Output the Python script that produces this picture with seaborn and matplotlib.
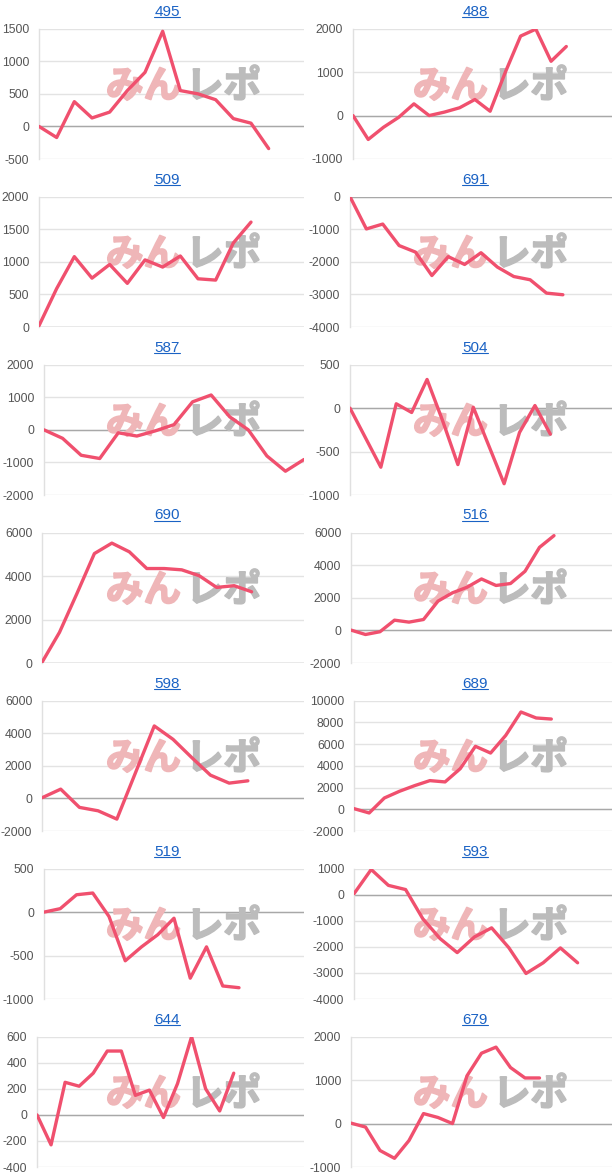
import matplotlib
matplotlib.use("Agg")
import matplotlib.pyplot as plt
from matplotlib.lines import Line2D
import matplotlib.patheffects as pe
import seaborn as sns
import pandas as pd
import numpy as np

# ---------------- data ----------------
machines = ["495", "488", "509", "691", "587", "504", "690",
            "516", "598", "689", "519", "593", "644", "679"]

s495 = [0, -170, 380, 130, 220, 550, 830, 1460, 550, 500, 410, 120, 50, -340]
s488 = [0, -550, -270, -40, 270, 0, 80, 180, 370, 100, 1000, 1830, 1990, 1250, 1590]
s509 = [20, 590, 1080, 750, 960, 670, 1030, 920, 1090, 740, 720, 1290, 1610]
s691 = [0, -990, -840, -1500, -1700, -2420, -1840, -2080, -1720, -2160, -2450, -2550, -2960, -3010]
s587 = [0, -260, -780, -880, -90, -190, -30, 160, 860, 1070, 400, 0, -800, -1270, -910]
s504 = [0, -340, -680, 50, -50, 330, -140, -650, 10, -430, -870, -280, 30, -300]
s690 = [30, 1410, 3200, 5040, 5520, 5120, 4350, 4350, 4290, 4020, 3480, 3560, 3280]
s516 = [20, -250, -80, 630, 510, 670, 1800, 2310, 2650, 3160, 2760, 2880, 3630, 5100, 5820]
s598 = [40, 570, -550, -760, -1270, 1590, 4450, 3630, 2510, 1430, 940, 1080]
s689 = [60, -340, 1040, 1660, 2180, 2640, 2520, 3740, 5800, 5180, 6810, 8960, 8410, 8310]
s519 = [0, 40, 200, 220, -50, -560, -400, -260, -70, -760, -400, -850, -870]
s593 = [40, 970, 360, 200, -920, -1680, -2220, -1620, -1270, -2030, -3020, -2610, -2040, -2610]
s644 = [0, -230, 250, 220, 320, 490, 490, 150, 190, -20, 240, 600, 200, 30, 320]
s679 = [10, -80, -620, -800, -390, 230, 140, 0, 1100, 1620, 1760, 1290, 1050, 1050]

series = [s495, s488, s509, s691, s587, s504, s690,
          s516, s598, s689, s519, s593, s644, s679]

# y axis range (low, high, step) and x axis extent for each machine
y_low = [-500, -1000, 0, -4000, -2000, -1000, 0, -2000, -2000, -2000, -1000, -4000, -400, -1000]
y_high = [1500, 2000, 2000, 0, 2000, 500, 6000, 6000, 6000, 10000, 500, 1000, 600, 2000]
y_step = [500, 1000, 500, 1000, 1000, 500, 2000, 2000, 2000, 2000, 500, 1000, 200, 1000]
x_span = [15, 17, 15, 16, 14, 17, 15, 18, 14, 17, 16, 15, 19, 18]

# ---------------- layout / style ----------------
W, H = 616, 1176
ROW_H = 168
lefts = [39, 353, 39, 350, 44, 350, 42, 351, 42, 354, 44, 354, 37, 351]
rights = [304, 612]
title_cx = [167, 475]
wm_mid = [183, 490]
LINE = "#f0506e"
BLUE = "#1a62c4"
PINK = "#efb6b8"
GRAY = "#bcbcbc"

sns.set_theme(style="white")
plt.rcParams['font.family'] = ['Liberation Sans', 'DejaVu Sans']
plt.rcParams['axes.unicode_minus'] = False

fig = plt.figure(figsize=(W / 100, H / 100), dpi=100)
fig.patch.set_facecolor("white")

titles = []
for i, (name, s) in enumerate(zip(machines, series)):
    row, col = divmod(i, 2)
    left = lefts[i]
    right = rights[col]
    top = row * ROW_H + 28.7
    bottom = row * ROW_H + 159.0
    ax = fig.add_axes([left / W, 1 - bottom / H, (right - left) / W, (bottom - top) / H])
    ax.set_facecolor("white")

    df = pd.DataFrame({"x": np.arange(len(s)), "y": s})
    sns.lineplot(data=df, x="x", y="y", ax=ax, color=LINE, linewidth=2.4, zorder=3)

    lo, hi, st = y_low[i], y_high[i], y_step[i]
    ax.set_xlim(0, x_span[i])
    ax.set_ylim(lo, hi)
    ticks = np.arange(lo, hi + st / 2, st)
    ax.set_yticks(ticks)
    ax.set_yticklabels([f"{int(v)}" for v in ticks])
    ax.set_xticks([])
    ax.set_xlabel("")
    ax.set_ylabel("")
    ax.set_axisbelow(True)
    ax.yaxis.grid(True, color="#e3e3e3", linewidth=1)
    ax.xaxis.grid(False)
    ax.axhline(0, color="#a8a8a8", linewidth=1, zorder=1)
    for sp in ["top", "right", "bottom"]:
        ax.spines[sp].set_visible(False)
    ax.spines["left"].set_color("#e0e0e0")
    ax.spines["left"].set_linewidth(1)
    ax.tick_params(axis="y", length=0, pad=7, labelsize=8.8, labelcolor="#555555")

    # watermark
    wy = 1 - (row * ROW_H + 86) / H
    ax.text(wm_mid[col] / W - 2 / W, wy, "みん", transform=fig.transFigure, ha="right", va="center",
            fontsize=27, fontweight="bold", color=PINK,
            family=["Noto Sans CJK JP", "DejaVu Sans"], zorder=1.5,
            path_effects=[pe.withStroke(linewidth=1.3, foreground=PINK)])
    ax.text(wm_mid[col] / W + 3 / W, wy, "レポ", transform=fig.transFigure, ha="left", va="center",
            fontsize=27, fontweight="bold", color=GRAY,
            family=["Noto Sans CJK JP", "DejaVu Sans"], zorder=1.5,
            path_effects=[pe.withStroke(linewidth=1.3, foreground=GRAY)])

    # title (link style)
    base_y = row * ROW_H + 15.5
    t = fig.text(title_cx[col] / W, 1 - base_y / H, name, ha="center", va="baseline",
                 fontsize=11, color=BLUE)
    titles.append((t, base_y))

fig.canvas.draw()
for t, base_y in titles:
    bb = t.get_window_extent()
    uy = 1 - (base_y + 1.3) / H
    fig.add_artist(Line2D([bb.x0 / W, bb.x1 / W], [uy, uy], transform=fig.transFigure,
                          color=BLUE, linewidth=0.8))

fig.savefig("out.png", dpi=100, facecolor="white")
